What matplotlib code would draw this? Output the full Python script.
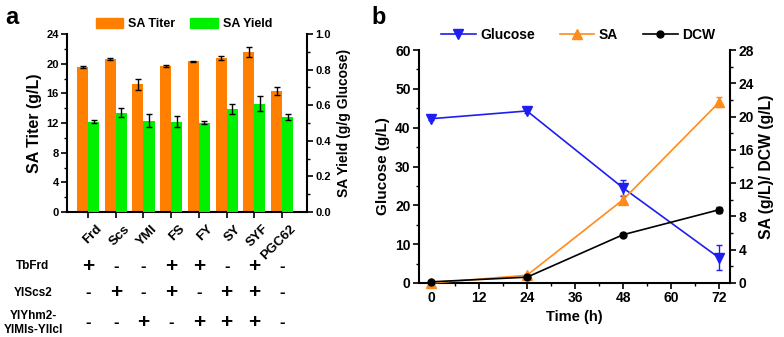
import matplotlib
matplotlib.use("Agg")
import matplotlib.pyplot as plt
import matplotlib.transforms as mtrans
from matplotlib.ticker import MultipleLocator, FormatStrFormatter
from matplotlib.patches import Patch
from matplotlib.lines import Line2D
import numpy as np

plt.rcParams['font.family'] = ['Liberation Sans', 'DejaVu Sans']
plt.rcParams['font.weight'] = 'bold'
plt.rcParams['axes.labelweight'] = 'bold'

# ---- Panel a data ----
strains = ["Frd", "Scs", "YMI", "FS", "FY", "SY", "SYF", "PGC62"]
titer = [19.6, 20.6, 17.2, 19.7, 20.3, 20.8, 21.6, 16.3]
titer_err = [0.15, 0.15, 0.8, 0.1, 0.1, 0.3, 0.7, 0.5]
yield_ = [0.508, 0.558, 0.513, 0.508, 0.502, 0.577, 0.608, 0.533]
yield_err = [0.008, 0.025, 0.037, 0.029, 0.010, 0.029, 0.042, 0.015]
row_labels = ["TbFrd", "YlScs2", "YlYhm2-\nYlMls-YlIcl"]
row_signs = [
    ["+", "-", "-", "+", "+", "-", "+", "-"],
    ["-", "+", "-", "+", "-", "+", "+", "-"],
    ["-", "-", "+", "-", "+", "+", "+", "-"],
]

# ---- Panel b data ----
time_h = [0, 24, 48, 72]
glucose = [42.3, 44.3, 24.5, 6.5]
glucose_err = [0.4, 0.4, 2.0, 3.2]
sa = [0.0, 0.93, 10.0, 21.7]
sa_err = [0.1, 0.15, 0.55, 0.6]
dcw = [0.14, 0.7, 5.8, 8.8]
dcw_err = [0.05, 0.1, 0.15, 0.35]

W, H = 784, 337
fig = plt.figure(figsize=(W / 100, H / 100), dpi=100)

ORANGE = "#FF8000"
GREEN = "#00F000"
BLUE = "#1E1EF0"
LORANGE = "#FF8C1A"

def style_ax(ax, fs, axis='both'):
    ax.tick_params(axis=axis, which='major', direction='out', length=4, width=1.2,
                   labelsize=fs, pad=2)
    ax.tick_params(axis=axis, which='minor', direction='out', length=2, width=1)
    for s in ax.spines.values():
        s.set_linewidth(1.5)

# ---------------- Panel a ----------------
axa = fig.add_axes([67 / W, 1 - 212 / H, (307 - 67) / W, (212 - 34) / H])
x = np.arange(len(strains))
bw = 0.4
axa.bar(x - bw / 2, titer, bw, color=ORANGE, yerr=titer_err,
        error_kw=dict(ecolor='black', elinewidth=1, capsize=2, capthick=1))
axa.set_xlim(-0.76, 7.9)
axa.set_ylim(0, 24)
axa.yaxis.set_major_locator(MultipleLocator(4))
axa.yaxis.set_minor_locator(MultipleLocator(2))
axa.set_ylabel("SA Titer (g/L)", fontsize=11.5, fontweight='bold', labelpad=3)
axa.spines['top'].set_visible(False)
axa.spines['right'].set_visible(False)
style_ax(axa, 8)
axa.set_xticks(x)
axa.set_xticklabels([])

# category labels, rotated 45 degrees under each group
lab_trans = (mtrans.blended_transform_factory(axa.transData, axa.transAxes)
             + mtrans.ScaledTranslation(12 / 100, -15 / 100, fig.dpi_scale_trans))
for xi, name in zip(x, strains):
    axa.text(xi, 0, name, transform=lab_trans, rotation=45, rotation_mode='anchor',
             ha='right', va='center', fontsize=9.5, fontweight='bold', clip_on=False)

axa2 = axa.twinx()
axa2.bar(x + bw / 2, yield_, bw, color=GREEN, yerr=yield_err,
         error_kw=dict(ecolor='black', elinewidth=1, capsize=2, capthick=1))
axa2.set_ylim(0, 1.0)
axa2.yaxis.set_major_locator(MultipleLocator(0.2))
axa2.yaxis.set_minor_locator(MultipleLocator(0.1))
axa2.yaxis.set_major_formatter(FormatStrFormatter('%.1f'))
axa2.set_ylabel("SA Yield (g/g Glucose)", fontsize=10, fontweight='bold', labelpad=4)
axa2.spines['top'].set_visible(False)
axa2.spines['left'].set_visible(False)
axa2.spines['bottom'].set_visible(False)
style_ax(axa2, 8, 'y')

fig.legend(handles=[Patch(color=ORANGE, label="SA Titer"), Patch(color=GREEN, label="SA Yield")],
           loc='center', bbox_to_anchor=(184 / W, 1 - 24 / H), ncol=2, frameon=False,
           prop=dict(size=9, weight='bold'), handlelength=2.2, handleheight=0.9,
           columnspacing=1.2, handletextpad=0.4)

# table of + / -
blend = mtrans.blended_transform_factory(axa.transData, fig.transFigure)
row_y = [1 - 266 / H, 1 - 293 / H, 1 - 323 / H]
for lab, yy, signs in zip(row_labels, row_y, row_signs):
    fig.text(33 / W, yy, lab, ha='center', va='center', fontsize=8.5, fontweight='bold',
             linespacing=1.15)
    for xi, s in zip(x, signs):
        axa.text(xi, yy, s, transform=blend, ha='center', va='center',
                 fontsize=15 if s == "+" else 12, fontweight='bold', clip_on=False)

fig.text(5 / W, 1 - 18 / H, "a", fontsize=17, fontweight='bold', ha='left', va='center')
fig.text(371 / W, 1 - 18 / H, "b", fontsize=17, fontweight='bold', ha='left', va='center')

# ---------------- Panel b ----------------
axb = fig.add_axes([419 / W, 1 - 283 / H, (730 - 419) / W, (283 - 50) / H])
axb.errorbar(time_h, glucose, yerr=glucose_err, color=BLUE, marker='v', markersize=7,
             lw=1.2, capsize=2.5, capthick=1, elinewidth=1, clip_on=False, zorder=3)
axb.set_xlim(-3, 74.75)
axb.set_ylim(0, 60)
axb.yaxis.set_major_locator(MultipleLocator(10))
axb.yaxis.set_minor_locator(MultipleLocator(5))
axb.xaxis.set_major_locator(MultipleLocator(12))
axb.xaxis.set_minor_locator(MultipleLocator(6))
axb.set_xlabel("Time (h)", fontsize=10.5, fontweight='bold', labelpad=3)
axb.set_ylabel("Glucose (g/L)", fontsize=11, fontweight='bold', labelpad=4)
axb.spines['top'].set_visible(False)
axb.spines['right'].set_visible(False)
style_ax(axb, 10)

axb2 = axb.twinx()
axb2.errorbar(time_h, sa, yerr=sa_err, color=LORANGE, marker='^', markersize=7,
              lw=1.2, capsize=2.5, capthick=1, elinewidth=1, clip_on=False, zorder=3)
axb2.errorbar(time_h, dcw, yerr=dcw_err, color='black', marker='o', markersize=5,
              lw=1.2, capsize=2.5, capthick=1, elinewidth=1, clip_on=False, zorder=3)
axb2.set_ylim(0, 28)
axb2.yaxis.set_major_locator(MultipleLocator(4))
axb2.yaxis.set_minor_locator(MultipleLocator(2))
axb2.set_ylabel("SA (g/L)/ DCW (g/L)", fontsize=11.3, fontweight='bold', labelpad=4)
axb2.spines['top'].set_visible(False)
axb2.spines['left'].set_visible(False)
axb2.spines['bottom'].set_visible(False)
style_ax(axb2, 10, 'y')

handles = [Line2D([], [], color=BLUE, marker='v', markersize=7, lw=1.2, label="Glucose"),
           Line2D([], [], color=LORANGE, marker='^', markersize=7, lw=1.2, label="SA"),
           Line2D([], [], color='black', marker='o', markersize=5, lw=1.2, label="DCW")]
fig.legend(handles=handles, loc='center', bbox_to_anchor=(578 / W, 1 - 35 / H), ncol=3,
           frameon=False, prop=dict(size=10, weight='bold'), handlelength=2.5,
           columnspacing=1.8, handletextpad=0.3)

fig.savefig("out.png", dpi=100)
